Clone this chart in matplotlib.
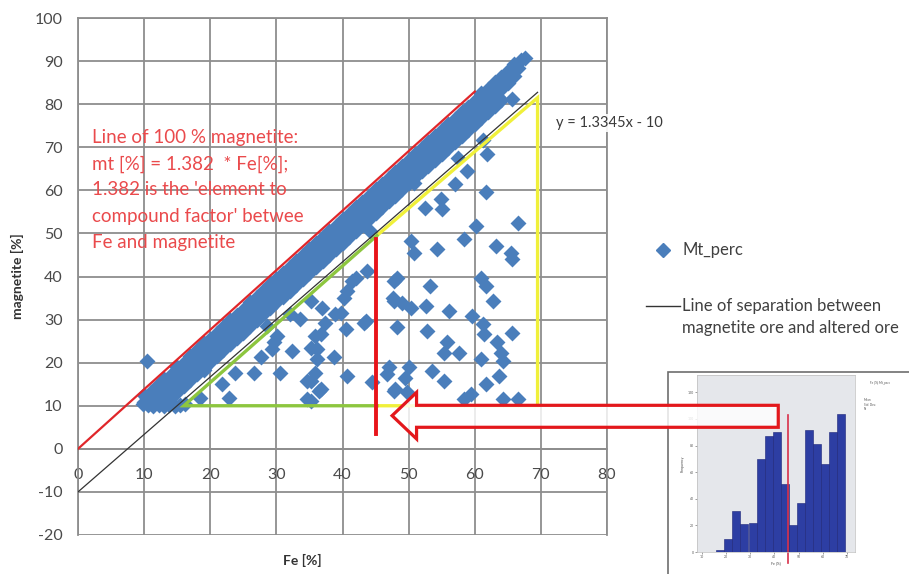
import matplotlib
matplotlib.use("Agg")
import matplotlib.pyplot as plt
from matplotlib.patches import Polygon, Rectangle
from matplotlib.lines import Line2D

plt.rcParams['font.family'] = ['Lato', 'DejaVu Sans']
plt.rcParams['axes.unicode_minus'] = False

# ---------------- data ----------------
# dense band of samples just below the 100 % magnetite line
band_upper_fe = [10, 11, 12, 13, 14, 15, 16, 17, 18, 19, 20, 21, 22, 23, 24, 25, 26, 27, 28, 29,
                 30, 31, 32, 33, 34, 35, 36, 37, 38, 39, 40, 41, 42, 43, 44, 45, 46, 47, 48, 49,
                 50, 51, 52, 53, 54, 55, 56, 57, 58, 59, 60, 61, 62, 63, 64, 65, 66, 67]
band_upper_mt = [12.5, 13.2, 14.6, 16.1, 17.2, 18.9, 20.0, 21.6, 22.9, 24.5, 25.4, 27.0, 28.2, 29.9,
                 31.0, 32.3, 34.1, 35.3, 36.6, 38.2, 39.4, 40.8, 42.3, 43.6, 45.0, 46.4, 47.7, 49.2,
                 50.5, 51.8, 53.4, 54.6, 56.1, 57.3, 58.8, 60.2, 61.5, 62.9, 64.3, 65.6, 67.1, 68.4,
                 69.8, 71.2, 72.5, 74.0, 75.3, 76.6, 78.1, 79.4, 80.8, 82.5, 83.6, 85.1, 86.4, 87.8,
                 89.3, 90.2]
band_a_fe = [10.5, 11.5, 12.5, 13.5, 14.5, 15.5, 16.5, 17.5, 18.5, 19.5, 20.5, 21.5, 22.5, 23.5,
             24.5, 25.5, 26.5, 27.5, 28.5, 29.5, 30.5, 31.5, 32.5, 33.5, 34.5, 35.5, 36.5, 37.5,
             38.5, 39.5, 40.5, 41.5, 42.5, 43.5, 44.5, 45.5, 46.5, 47.5, 48.5, 49.5, 50.5, 51.5,
             52.5, 53.5, 54.5, 55.5, 56.5, 57.5, 58.5, 59.5, 60.5, 61.5, 62.5, 63.5, 64.5, 65.5, 66.5]
band_a_mt = [11.1, 12.5, 13.9, 15.1, 16.6, 18.2, 19.4, 20.8, 22.0, 23.5, 24.9, 26.5, 27.7, 29.1,
             30.3, 31.8, 33.2, 34.8, 36.0, 37.4, 38.6, 40.1, 41.5, 43.1, 44.3, 45.7, 47.0, 48.6,
             49.8, 51.2, 52.4, 54.0, 55.3, 56.9, 58.1, 59.5, 60.7, 62.2, 63.6, 65.2, 66.4, 67.8,
             69.0, 70.5, 71.9, 73.5, 74.7, 76.1, 77.2, 78.8, 80.2, 81.8, 83.0, 84.4, 85.9, 87.1, 88.5]
band_mid_fe = [10, 11, 12, 13, 14, 15, 16, 17, 18, 19, 20, 21, 22, 23, 24, 25, 26, 27, 28, 29,
               30, 31, 32, 33, 34, 35, 36, 37, 38, 39, 40, 41, 42, 43, 44, 45, 46, 47, 48, 49,
               50, 51, 52, 53, 54, 55, 56, 57, 58, 59, 60, 61, 62, 63, 64, 65, 66, 67.6]
band_mid_mt = [10.9, 11.0, 11.6, 13.0, 14.5, 15.8, 17.4, 18.6, 20.1, 21.5, 22.9, 24.1, 25.6, 27.0,
               28.3, 29.8, 31.0, 32.6, 33.9, 35.2, 36.8, 38.0, 39.5, 40.8, 42.3, 43.5, 45.0, 46.4,
               47.7, 49.2, 50.4, 51.9, 53.3, 54.5, 56.0, 57.4, 58.8, 60.1, 61.6, 62.8, 64.3, 65.7,
               67.0, 68.4, 69.8, 71.2, 72.6, 73.9, 75.3, 76.6, 78.1, 79.4, 80.9, 82.2, 83.6, 85.0,
               86.6, 90.8]
band_b_fe = [13.5, 14.5, 15.5, 16.5, 17.5, 18.5, 19.5, 20.5, 21.5, 22.5, 23.5, 24.5, 25.5, 26.5,
             27.5, 28.5, 29.5, 30.5, 31.5, 32.5, 33.5, 34.5, 35.5, 36.5, 37.5, 38.5, 39.5, 40.5,
             41.5, 42.5, 43.5, 44.5, 45.5, 46.5, 47.5, 48.5, 49.5, 50.5, 51.5, 52.5, 53.5, 54.5,
             55.5, 56.5, 57.5, 58.5, 59.5, 60.5, 61.5, 62.5, 63.5]
band_b_mt = [12.5, 13.8, 15.2, 16.8, 18.0, 19.4, 20.7, 22.3, 23.5, 24.9, 26.1, 27.7, 29.0, 30.6,
             31.8, 33.2, 34.4, 35.9, 37.5, 38.7, 40.1, 41.3, 42.9, 44.2, 45.8, 47.0, 48.4, 49.6,
             51.2, 52.5, 54.1, 55.3, 56.7, 57.9, 59.4, 60.8, 62.4, 63.6, 65.0, 66.2, 67.7, 69.1,
             70.7, 71.9, 73.3, 74.4, 76.0, 77.4, 79.0, 80.2, 81.6]
band_lower_fe = [13, 14, 15, 16, 17, 18, 19, 20, 21, 22, 23, 24, 25, 26, 27, 28, 29, 30, 31, 32,
                 33, 34, 35, 36, 37, 38, 39, 40, 41, 42, 43, 44, 45, 46, 47, 48, 49, 50, 51, 52,
                 53, 54, 55, 56, 57, 58, 59, 60, 61, 62, 63, 64]
band_lower_mt = [10.5, 11.7, 13.1, 14.6, 16.0, 17.3, 18.8, 20.1, 21.5, 22.9, 24.3, 25.7, 27.0, 28.4,
                 29.8, 31.2, 32.6, 34.0, 35.3, 36.7, 38.1, 39.5, 40.9, 42.2, 43.6, 45.0, 46.4, 47.8,
                 49.1, 50.6, 51.9, 53.3, 54.7, 56.1, 57.5, 58.8, 60.2, 61.6, 63.0, 64.4, 65.7, 67.1,
                 68.5, 69.9, 71.3, 72.6, 74.1, 75.4, 76.8, 78.2, 79.6, 81.0]
blob_fe = [9.8, 10.6, 11.4, 12.2, 13.0, 13.8, 14.6, 15.4, 16.2, 10.5, 11.8]
blob_mt = [10.3, 10.1, 10.0, 10.2, 10.0, 10.1, 10.0, 10.2, 10.3, 11.8, 12.4]
# scattered (altered ore) samples
scatter_fe = [10.4, 65.7, 61.2, 61.9, 57.5, 58.9, 57.0, 61.7, 54.9, 52.5, 55.1, 50.8, 56.4, 60.2,
              66.5, 58.4, 50.3, 50.8, 54.3, 63.2, 65.5, 65.7, 44.2, 48.3, 53.3, 60.9, 61.7, 47.7,
              42.0, 43.7, 47.8, 41.5, 40.7, 40.2, 47.8, 36.9, 33.6, 37.4, 39.7, 40.5, 43.5, 48.3,
              35.9, 36.2, 32.4, 30.1, 27.6, 29.3, 38.7, 30.6, 26.6, 23.8, 35.9, 35.2, 40.7, 47.0,
              46.8, 21.8, 22.8, 36.4, 35.2, 47.8, 44.5, 35.2, 62.7, 49.0, 50.3, 52.6, 56.1, 38.9,
              43.2, 52.8, 59.6, 61.2, 65.7, 61.4, 55.8, 55.3, 57.6, 63.4, 63.9, 64.2, 60.9, 50.0,
              49.5, 53.6, 55.3, 34.6, 36.7, 48.0, 49.8, 61.7, 63.7, 59.4, 58.4, 64.2, 66.5, 34.6,
              35.2, 18.5, 29.6, 28.6, 32.1, 36.7, 36.2, 19.0]
scatter_mt = [20.4, 81.3, 71.7, 68.4, 67.6, 64.5, 61.4, 59.5, 57.9, 56.0, 55.6, 61.6, 70.7, 51.7,
              52.5, 48.7, 48.3, 45.5, 46.4, 47.1, 45.5, 44.0, 50.6, 39.7, 37.8, 39.7, 37.8, 35.1,
              39.7, 41.3, 39.0, 39.0, 36.7, 35.1, 34.3, 32.8, 30.1, 29.3, 31.6, 27.8, 29.7, 28.2,
              26.2, 23.1, 22.7, 26.2, 21.2, 23.1, 21.2, 17.7, 17.7, 17.7, 17.7, 15.8, 16.9, 18.9,
              17.3, 15.0, 11.9, 13.5, 11.1, 13.5, 15.4, 34.3, 34.3, 33.8, 32.8, 33.2, 32.0, 31.3,
              29.3, 27.4, 30.9, 28.9, 27.0, 26.6, 24.7, 22.3, 22.3, 24.7, 22.3, 20.4, 20.8, 18.9,
              16.5, 18.1, 15.8, 15.8, 13.9, 13.9, 13.1, 15.0, 16.9, 12.7, 11.5, 11.5, 11.5, 11.5,
              23.5, 11.9, 24.7, 28.5, 31.3, 26.6, 20.8, 18.3]

# lines
mt_factor = 1.382
magnetite_line_fe = [0, 60]
sep_slope, sep_intercept = 1.3345, -10
sep_line_fe = [0, 69.5]
green_fe = [45.2, 16.0, 45.2]
green_mt = [49.5, 10.0, 10.0]
yellow_fe = [45.2, 69.5, 69.5, 45.2]
yellow_mt = [49.5, 81.5, 10.0, 10.0]
cut_fe = [45, 45]
cut_mt = [3.5, 48.7]

# histogram inset (Fe distribution)
hist_left = [16.1, 19.4, 22.7, 26.0, 29.4, 32.7, 36.0, 39.3, 42.6, 45.9, 49.3, 52.6, 55.9, 59.2,
             62.5, 65.8]
hist_counts = [1.5, 10, 31, 21, 22, 70, 87, 90, 51, 20, 37, 92, 81, 66, 90, 104]
hist_width = 3.31
hist_cut = 45.8

# ---------------- figure ----------------
W, H = 909, 574
fig = plt.figure(figsize=(W / 100, H / 100), dpi=100)
fig.patch.set_facecolor('white')

def fx(px):
    return px / W

def fy(py):
    return 1 - py / H

ax = fig.add_axes([fx(78), fy(535), fx(607) - fx(78), fy(18) - fy(535)])
ax.set_xlim(0, 80)
ax.set_ylim(-20, 100)
ax.set_xticks(range(0, 81, 10))
ax.set_yticks(range(-20, 101, 10))
grid_c = '#8e8e8e'
ax.grid(True, color=grid_c, lw=1.3)
ax.set_axisbelow(True)
for s in ['left', 'right', 'top', 'bottom']:
    ax.spines[s].set_color(grid_c)
    ax.spines[s].set_linewidth(1.3)
ax.spines['bottom'].set_position(('data', 0))
ax.tick_params(axis='both', length=0, labelsize=11.5, labelcolor='#4a4a4a')
ax.tick_params(axis='x', pad=14)
ax.tick_params(axis='y', pad=11)

blue = '#4A7EBB'
ms = 66
for fe_vals, mt_vals in [(band_upper_fe, band_upper_mt), (band_a_fe, band_a_mt),
                         (band_mid_fe, band_mid_mt), (band_b_fe, band_b_mt),
                         (band_lower_fe, band_lower_mt), (blob_fe, blob_mt),
                         (scatter_fe, scatter_mt)]:
    ax.scatter(fe_vals, mt_vals, marker='D', s=ms, color=blue, lw=0, zorder=3)

ax.plot(magnetite_line_fe, [mt_factor * v for v in magnetite_line_fe], color='#E0262A', lw=1.6, zorder=4)
ax.plot(sep_line_fe, [sep_slope * v + sep_intercept for v in sep_line_fe], color='#333333', lw=0.9, zorder=5)
ax.plot(yellow_fe, yellow_mt, color='#F0F03A', lw=2.4, zorder=4, solid_joinstyle='miter')
ax.plot(green_fe, green_mt, color='#8DC63F', lw=2.4, zorder=4, solid_joinstyle='miter')
ax.plot(cut_fe, cut_mt, color='#E8141A', lw=2.8, zorder=6)

red_txt = '#EA4A4C'
note_lines = ["Line of 100 % magnetite:", "mt [%] = 1.382  * Fe[%];", "1.382 is the 'element to",
              "compound factor' betwee", "Fe and magnetite"]
note_y = [72.2, 66.1, 60.1, 53.9, 47.8]
for t, yv in zip(note_lines, note_y):
    ax.text(2.1, yv, t, color=red_txt, fontsize=13.5, va='center', ha='left', zorder=7)

ax.text(72.3, 75.6, "y = 1.3345x - 10", color='#3a3a3a', fontsize=10.5, va='center', ha='left',
        zorder=7, clip_on=False,
        bbox=dict(facecolor='white', edgecolor='none', pad=1.5, alpha=0.9))

fig.text(fx(302), fy(560), "Fe [%]", fontsize=10, fontweight='bold', color='#333333',
         ha='center', va='center')
fig.text(fx(17), fy(276), "magnetite [%]", fontsize=10, fontweight='bold', color='#333333',
         ha='center', va='center', rotation=90)

# legend
fig.add_artist(Line2D([fx(663)], [fy(250)], marker='D', markersize=7, color=blue, lw=0,
                      transform=fig.transFigure))
fig.text(fx(683), fy(250), "Mt_perc", fontsize=12, color='#404040', va='center', ha='left')
fig.add_artist(Line2D([fx(646), fx(680)], [fy(306), fy(306)], color='#333333', lw=1,
                      transform=fig.transFigure))
fig.text(fx(682), fy(306), "Line of separation between", fontsize=12, color='#404040',
         va='center', ha='left')
fig.text(fx(682), fy(328), "magnetite ore and altered ore", fontsize=12, color='#404040',
         va='center', ha='left')

# inset histogram
fig.add_artist(Rectangle((fx(668), fy(578)), fx(260), fy(372) - fy(578), transform=fig.transFigure,
                         facecolor='white', edgecolor='#6e6e6e', lw=1.2, zorder=1))
hax = fig.add_axes([fx(697), fy(552), fx(855) - fx(697), fy(375) - fy(552)], zorder=2)
hax.set_facecolor('#E5E7EB')
hax.bar(hist_left, hist_counts, width=hist_width, align='edge', color='#2D3EA3',
        edgecolor='#1B2478', lw=0.4)
hax.set_xlim(8.1, 73.3)
hax.set_ylim(0, 133)
hax.set_xticks(range(10, 71, 10))
hax.set_yticks(range(0, 121, 20))
hax.tick_params(length=1.5, width=0.4, labelsize=2.5, pad=1, colors='#555555')
for s in hax.spines.values():
    s.set_color('#bdbdbd')
    s.set_linewidth(0.5)
hax.plot([hist_cut, hist_cut], [-8, 103], color='#D8304A', lw=1.2, clip_on=False)
hax.set_xlabel("Fe [%]", fontsize=2.5, labelpad=1.5, color='#444444')
hax.set_ylabel("Frequency", fontsize=2.5, labelpad=2, color='#444444')
fig.text(fx(880), fy(383), "Fe [%] Mt_perc", fontsize=2.2, color='#555555', ha='center', va='center', zorder=3)
fig.text(fx(864), fy(398), "Mean\nStd. Dev.\nN", fontsize=2.2, color='#555555', ha='left', va='top',
         zorder=3, linespacing=1.2)

# big hollow arrow from the histogram to the cut-off
arrow_fe = [47.5, 51.2, 51.2, 105.9, 105.9, 51.2, 51.2]
arrow_mt = [7.7, 13.1, 10.1, 10.1, 5.0, 5.0, 2.3]
arrow = Polygon(list(zip(arrow_fe, arrow_mt)), closed=True, transform=ax.transData,
                facecolor=(1, 1, 1, 0.82), edgecolor='#E3181C', lw=2.3, zorder=10,
                joinstyle='miter', clip_on=False)
fig.add_artist(arrow)

fig.savefig('out.png', dpi=100)
